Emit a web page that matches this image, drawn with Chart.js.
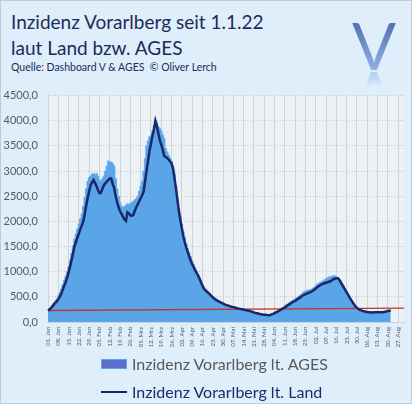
<!DOCTYPE html>
<html lang="de">
<head>
<meta charset="UTF-8">
<title>Inzidenz Vorarlberg</title>
<script src="https://cdn.jsdelivr.net/npm/chart.js"></script>
<style>
  html, body { margin: 0; padding: 0; background: #ffffff; }
  #frame { position: relative; width: 410px; height: 402px; background: #deeefb; border: 1px solid #c6cbd1; overflow: hidden; font-family: Lato, sans-serif; }
  .title { position: absolute; left: 10px; color: #1d2b5a; white-space: nowrap; }
  #t1 { top: 9px; font-size: 19px; }
  #t2 { top: 35px; font-size: 19px; }
  #t3 { top: 60px; font-size: 10.5px; }
  .logo { position: absolute; left: 351px; font-weight: 400; font-size: 65px; line-height: 65px; height: 65px; color: transparent;
          background: linear-gradient(to bottom, #5471b2 15%, #93b3e3 90%); -webkit-background-clip: text; background-clip: text; }
  #logo { top: 12px; }
  #logoRefl { top: 63px; transform: scaleY(-1);
              -webkit-mask-image: linear-gradient(to top, rgba(0,0,0,0.55) 11%, rgba(0,0,0,0) 36%);
              mask-image: linear-gradient(to top, rgba(0,0,0,0.55) 11%, rgba(0,0,0,0) 36%); }
  #chartBox { position: absolute; left: 0; top: 78px; width: 413px; height: 275px; }
  .legItem { position: absolute; left: 100px; font-size: 16px; white-space: nowrap; }
  .legItem span { display: inline-block; vertical-align: middle; }
  #leg1 { top: 351px; color: #595959; }
  #leg2 { top: 379px; color: #1d2b6a; }
  .swBox { width: 24px; height: 8px; background: #5a6ecb; border: 1px solid #5ba6ea; margin-right: 5px; }
  .swLine { width: 26px; height: 2.5px; background: #1a2868; margin-right: 5px; }
</style>
</head>
<body>
<div id="frame">
  <div class="title" id="t1">Inzidenz Vorarlberg seit 1.1.22</div>
  <div class="title" id="t2">laut Land bzw. AGES</div>
  <div class="title" id="t3">Quelle: Dashboard V &amp; AGES &nbsp;© Oliver Lerch</div>
  <div class="logo" id="logo">V</div>
  <div class="logo" id="logoRefl">V</div>
  <div id="chartBox"><canvas id="incChart"></canvas></div>
  <div class="legItem" id="leg1"><span class="swBox"></span><span>Inzidenz Vorarlberg lt. AGES</span></div>
  <div class="legItem" id="leg2"><span class="swLine"></span><span>Inzidenz Vorarlberg lt. Land</span></div>
</div>
<script>
// months of 2022 shown on the axis (1 Jan - 31 Aug)
const monthNames = ['Jan', 'Feb', 'Mrz', 'Apr', 'Mai', 'Jun', 'Jul', 'Aug'];
const monthDays = [31, 28, 31, 30, 31, 30, 31, 31];

// weekly tick labels
const weekTicks = ['01. Jan', '08. Jan', '15. Jan', '22. Jan', '29. Jan', '05. Feb', '12. Feb', '19. Feb', '26. Feb',
  '05. Mrz', '12. Mrz', '19. Mrz', '26. Mrz', '02. Apr', '09. Apr', '16. Apr', '23. Apr', '30. Apr',
  '07. Mai', '14. Mai', '21. Mai', '28. Mai', '04. Jun', '11. Jun', '18. Jun', '25. Jun',
  '02. Jul', '09. Jul', '16. Jul', '23. Jul', '30. Jul', '06. Aug', '13. Aug', '20. Aug', '27. Aug'];

// 7-day incidence per 100k, AGES (daily, from 1 Jan)
const agesValues = [
  240, 260, 290, 330, 380, 420, 460, 520, 580, 650,
  740, 830, 910, 1000, 1100, 1230, 1370, 1520, 1650, 1750,
  1850, 1950, 2050, 2150, 2300, 2480, 2650, 2800, 2870, 2900,
  2940, 2950, 2930, 2950, 2900, 2820, 2800, 2850, 2900, 3000,
  3100, 3200, 3180, 3180, 3150, 3100, 2850, 2650, 2500, 2380,
  2300, 2280, 2300, 2320, 2350, 2340, 2360, 2380, 2400, 2430,
  2450, 2500, 2600, 2700, 2800, 3000, 3250, 3500, 3600, 3680,
  3700, 3800, 3900, 4000, 3950, 3880, 3850, 3800, 3720, 3650,
  3450, 3380, 3320, 3260, 3200, 3100, 2950, 2700, 2450, 2250,
  2100, 1950, 1800, 1680, 1560, 1460, 1380, 1300, 1220, 1150,
  1080, 1010, 950, 890, 820, 750, 700, 660, 630, 600,
  570, 540, 510, 480, 460, 440, 420, 405, 390, 375,
  360, 350, 340, 330, 320, 312, 305, 298, 290, 280,
  272, 265, 258, 250, 243, 236, 228, 218, 200, 190,
  182, 175, 168, 162, 156, 150, 146, 143, 140, 140,
  140, 150, 162, 175, 190, 205, 222, 240, 260, 280,
  300, 320, 340, 360, 380, 400, 420, 440, 460, 480,
  500, 520, 545, 570, 600, 615, 625, 635, 645, 650,
  670, 690, 720, 750, 770, 790, 800, 820, 840, 860,
  880, 895, 900, 910, 920, 920, 900, 880, 850, 820,
  770, 720, 660, 610, 560, 510, 460, 410, 360, 320,
  290, 265, 245, 232, 222, 214, 208, 202, 200, 198,
  198, 198, 200, 200, 200, 201, 202, 203, 205, 208,
  215, 222, 228, 232
];

// 7-day incidence per 100k, Land Vorarlberg (daily, from 1 Jan)
const landValues = [
  230, 250, 275, 310, 350, 380, 410, 450, 500, 560,
  640, 720, 790, 880, 985, 1100, 1230, 1360, 1500, 1590,
  1680, 1760, 1850, 1920, 2000, 2150, 2320, 2470, 2600, 2720,
  2780, 2820, 2760, 2700, 2620, 2560, 2570, 2650, 2720, 2760,
  2790, 2820, 2850, 2850, 2740, 2660, 2500, 2380, 2280, 2200,
  2150, 2090, 2040, 2010, 2180, 2160, 2120, 2110, 2130, 2210,
  2280, 2340, 2400, 2460, 2520, 2590, 2800, 3010, 3200, 3400,
  3550, 3700, 3820, 4000, 3900, 3750, 3620, 3530, 3420, 3300,
  3280, 3260, 3230, 3190, 3150, 3050, 2850, 2650, 2420, 2200,
  2020, 1860, 1700, 1580, 1480, 1390, 1300, 1215, 1150, 1090,
  1030, 975, 925, 860, 790, 720, 660, 630, 600, 575,
  550, 520, 490, 465, 445, 425, 410, 395, 380, 365,
  350, 340, 330, 320, 310, 302, 295, 288, 280, 270,
  265, 258, 252, 246, 240, 235, 228, 222, 210, 200,
  190, 182, 175, 168, 160, 155, 150, 146, 142, 138,
  135, 140, 150, 162, 175, 190, 205, 222, 240, 255,
  270, 290, 310, 330, 350, 370, 390, 405, 420, 440,
  460, 480, 500, 520, 540, 555, 565, 580, 590, 600,
  620, 640, 665, 690, 710, 730, 750, 760, 770, 780,
  790, 800, 810, 830, 850, 860, 870, 870, 840, 790,
  740, 690, 640, 590, 540, 490, 440, 395, 350, 310,
  280, 258, 240, 230, 220, 212, 205, 198, 195, 192,
  190, 190, 192, 193, 194, 195, 195, 196, 198, 202,
  210, 218, 225, 230
];

// red reference line: start and end value
const refStart = 229;
const refEnd = 275;

// daily category labels
const days = [];
monthNames.forEach((m, mi) => {
  for (let d = 1; d <= monthDays[mi]; d++) days.push(String(d).padStart(2, '0') + '. ' + m);
});
const refLine = days.map((_, i) => i === 0 ? refStart : (i === days.length - 1 ? refEnd : null));

const plotBg = {
  id: 'plotBg',
  beforeDraw(chart) {
    const { ctx, chartArea: a } = chart;
    ctx.save();
    ctx.fillStyle = '#ecf1f6';
    ctx.fillRect(a.left, a.top, a.right - a.left, a.bottom - a.top);
    ctx.restore();
  }
};

new Chart(document.getElementById('incChart'), {
  type: 'line',
  data: {
    labels: days,
    datasets: [{
      label: 'Inzidenz Vorarlberg lt. Land',
      data: landValues,
      borderColor: '#1a2868',
      borderWidth: 2.5,
      pointRadius: 0,
      tension: 0,
      fill: false,
      order: 1
    }, {
      label: 'Referenz',
      data: refLine,
      borderColor: '#c0392b',
      borderWidth: 1.3,
      pointRadius: 0,
      spanGaps: true,
      fill: false,
      order: 2
    }, {
      label: 'Inzidenz Vorarlberg lt. AGES',
      data: agesValues,
      borderColor: '#62adf0',
      borderWidth: 1,
      backgroundColor: '#5aa5e8',
      pointRadius: 0,
      stepped: 'middle',
      fill: 'origin',
      order: 3
    }]
  },
  options: {
    responsive: true,
    maintainAspectRatio: false,
    animation: false,
    layout: { padding: { top: 10, right: 10, left: 0, bottom: 0 } },
    plugins: {
      legend: { display: false },
      tooltip: { enabled: false }
    },
    scales: {
      x: {
        afterFit(scale) { scale.height = 32; },
        grid: { color: '#d2d2d2', lineWidth: 1, drawTicks: false },
        border: { color: '#d2d2d2' },
        ticks: {
          autoSkip: false,
          minRotation: 90,
          maxRotation: 90,
          padding: 5,
          color: '#595959',
          font: { family: 'Lato', size: 6 },
          callback: (v, i) => i % 7 === 0 ? weekTicks[i / 7] : null
        }
      },
      y: {
        min: 0,
        max: 4500,
        afterFit(scale) { scale.width = 47; },
        grid: { color: '#c2c6cc', drawTicks: false },
        border: { color: '#d2d2d2', dash: [1, 2] },
        ticks: {
          stepSize: 500,
          padding: 10,
          color: '#595959',
          font: { family: 'Lato', size: 11 },
          callback: v => v.toFixed(1).replace('.', ',')
        }
      }
    }
  },
  plugins: [plotBg]
});
</script>
</body>
</html>
